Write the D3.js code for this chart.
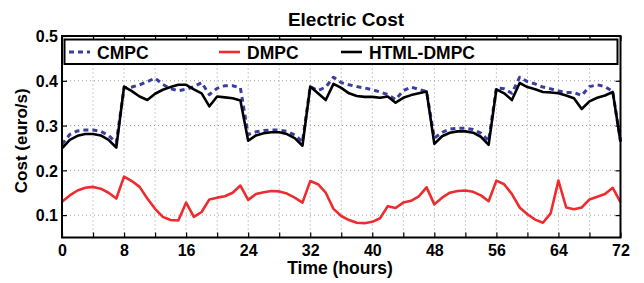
<!DOCTYPE html>
<html>
<head>
<meta charset="utf-8">
<script src="https://cdn.jsdelivr.net/npm/d3@7"></script>
<style>
  body { margin: 0; background: #fff; }
  svg text { font-family: "Liberation Sans", Arial, sans-serif; font-weight: bold; fill: #000; }
</style>
</head>
<body>
<svg id="chart" width="644" height="283"></svg>
<script>
// hourly samples, 0..72 h
var hours = d3.range(0, 73);

var cmpc = [
    0.258, 0.280, 0.288, 0.290, 0.290, 0.287, 0.278, 0.262,
    0.384, 0.386, 0.391, 0.398, 0.406, 0.392, 0.382, 0.378,
    0.381, 0.387, 0.396, 0.369, 0.383, 0.389, 0.389, 0.384,
    0.280, 0.286, 0.289, 0.290, 0.290, 0.287, 0.279, 0.264,
    0.387, 0.378, 0.386, 0.408, 0.396, 0.391, 0.387, 0.384,
    0.380, 0.375, 0.369, 0.358, 0.378, 0.386, 0.381, 0.376,
    0.272, 0.285, 0.292, 0.294, 0.294, 0.291, 0.283, 0.266,
    0.384, 0.382, 0.372, 0.408, 0.398, 0.393, 0.386, 0.382,
    0.377, 0.374, 0.374, 0.367, 0.387, 0.391, 0.387, 0.376,
    0.265
];

var dmpc = [
    0.130, 0.144, 0.155, 0.161, 0.163, 0.159, 0.150, 0.137,
    0.186, 0.176, 0.163, 0.137, 0.114, 0.096, 0.089, 0.088,
    0.128, 0.096, 0.107, 0.135, 0.139, 0.142, 0.150, 0.166,
    0.134, 0.147, 0.151, 0.154, 0.153, 0.148, 0.139, 0.128,
    0.176, 0.169, 0.150, 0.114, 0.098, 0.089, 0.083, 0.082,
    0.085, 0.093, 0.120, 0.116, 0.128, 0.132, 0.142, 0.162,
    0.124, 0.139, 0.150, 0.154, 0.155, 0.152, 0.144, 0.131,
    0.177, 0.169, 0.147, 0.117, 0.102, 0.090, 0.083, 0.104,
    0.177, 0.117, 0.113, 0.117, 0.135, 0.141, 0.147, 0.161,
    0.129
];

var htmlDmpc = [
    0.249, 0.268, 0.277, 0.281, 0.281, 0.278, 0.268, 0.251,
    0.387, 0.377, 0.365, 0.357, 0.371, 0.380, 0.386, 0.391,
    0.391, 0.381, 0.372, 0.343, 0.365, 0.363, 0.361, 0.356,
    0.266, 0.278, 0.283, 0.285, 0.285, 0.281, 0.272, 0.255,
    0.387, 0.372, 0.357, 0.393, 0.384, 0.372, 0.366, 0.364,
    0.364, 0.362, 0.365, 0.351, 0.362, 0.368, 0.372, 0.376,
    0.259, 0.276, 0.284, 0.287, 0.287, 0.284, 0.275, 0.257,
    0.381, 0.372, 0.357, 0.395, 0.386, 0.381, 0.375, 0.374,
    0.372, 0.367, 0.361, 0.337, 0.354, 0.362, 0.367, 0.375,
    0.264
];

var xTicks = d3.range(0, 73, 4);
var yTicks = [0.1, 0.2, 0.3, 0.4, 0.5];

var series = [
    { name: "CMPC", values: cmpc, color: "#3a3f9e", width: 3, dash: "5,4" },
    { name: "DMPC", values: dmpc, color: "#ee2b2f", width: 2.6, dash: null },
    { name: "HTML-DMPC", values: htmlDmpc, color: "#000", width: 2.6, dash: null }
];

var margin = { left: 62, right: 23.5, top: 36, bottom: 45.5 };
var W = 644, H = 283;
var svg = d3.select("#chart");

var x = d3.scaleLinear().domain([0, 72]).range([margin.left, W - margin.right]);
var y = d3.scaleLinear().domain([0.05, 0.5]).range([H - margin.bottom, margin.top]);

var g = svg.append("g");

// grid
g.selectAll(".vgrid").data(xTicks.slice(1, -1)).enter().append("line")
    .attr("x1", d => x(d)).attr("x2", d => x(d))
    .attr("y1", y(0.05)).attr("y2", y(0.5))
    .attr("stroke", "#999").attr("stroke-width", 1).attr("stroke-dasharray", "1,3");
g.selectAll(".hgrid").data(yTicks.slice(0, -1)).enter().append("line")
    .attr("x1", x(0)).attr("x2", x(72))
    .attr("y1", d => y(d)).attr("y2", d => y(d))
    .attr("stroke", "#999").attr("stroke-width", 1).attr("stroke-dasharray", "1,3");

// axes, ticks pointing in
var xb = g.append("g").attr("transform", "translate(0," + y(0.05) + ")")
    .call(d3.axisBottom(x).tickValues(xTicks).tickSizeInner(-5).tickSizeOuter(0)
        .tickFormat(d => d % 8 === 0 ? d : ""));
var xt = g.append("g").attr("transform", "translate(0," + y(0.5) + ")")
    .call(d3.axisTop(x).tickValues(xTicks).tickSizeInner(-5).tickSizeOuter(0).tickFormat(""));
var yl = g.append("g").attr("transform", "translate(" + x(0) + ",0)")
    .call(d3.axisLeft(y).tickValues(yTicks).tickSizeInner(-5).tickSizeOuter(0).tickFormat(d3.format(".1f")));
var yr = g.append("g").attr("transform", "translate(" + x(72) + ",0)")
    .call(d3.axisRight(y).tickValues(yTicks).tickSizeInner(-5).tickSizeOuter(0).tickFormat(""));

[xb, xt, yl, yr].forEach(function (a) {
    a.select(".domain").remove();
    a.selectAll(".tick line").attr("stroke", "#000").attr("stroke-width", 1.2);
    a.selectAll("text").attr("font-size", 16).attr("font-family", null);
});
// empty labels would still take space, drop them
xb.selectAll(".tick text").filter(function () { return this.textContent === ""; }).remove();
xb.selectAll("text").attr("dy", null).attr("y", 18);
yl.selectAll("text").attr("x", -4).attr("dy", "0.36em");

// lines
var line = d3.line().x((d, i) => x(hours[i])).y(d => y(d));
series.forEach(function (s) {
    g.append("path").datum(s.values)
        .attr("fill", "none")
        .attr("stroke", s.color)
        .attr("stroke-width", s.width)
        .attr("stroke-dasharray", s.dash)
        .attr("stroke-linejoin", "round")
        .attr("d", line);
});

// axis box
g.append("rect")
    .attr("x", x(0)).attr("y", y(0.5))
    .attr("width", x(72) - x(0)).attr("height", y(0.05) - y(0.5))
    .attr("fill", "none").attr("stroke", "#000").attr("stroke-width", 2);

// legend
var leg = g.append("g");
leg.append("rect")
    .attr("x", 64.5).attr("y", 39.5).attr("width", 553).attr("height", 24.5)
    .attr("fill", "#fff").attr("stroke", "#000").attr("stroke-width", 2);
var legX = [69, 219, 341];
series.forEach(function (s, i) {
    leg.append("line")
        .attr("x1", legX[i]).attr("x2", legX[i] + 21)
        .attr("y1", 52).attr("y2", 52)
        .attr("stroke", s.color).attr("stroke-width", s.width)
        .attr("stroke-dasharray", s.dash);
    leg.append("text")
        .attr("x", legX[i] + 28).attr("y", 58.5)
        .attr("font-size", 17.5)
        .text(s.name);
});

// titles
svg.append("text").attr("x", 346).attr("y", 26)
    .attr("text-anchor", "middle").attr("font-size", 19).text("Electric Cost");
svg.append("text").attr("x", 340).attr("y", 274)
    .attr("text-anchor", "middle").attr("font-size", 17.5).text("Time (hours)");
svg.append("text")
    .attr("transform", "translate(27," + ((y(0.05) + y(0.5)) / 2 + 4) + ") rotate(-90)")
    .attr("text-anchor", "middle").attr("font-size", 17).text("Cost (euro/s)");
</script>
</body>
</html>
